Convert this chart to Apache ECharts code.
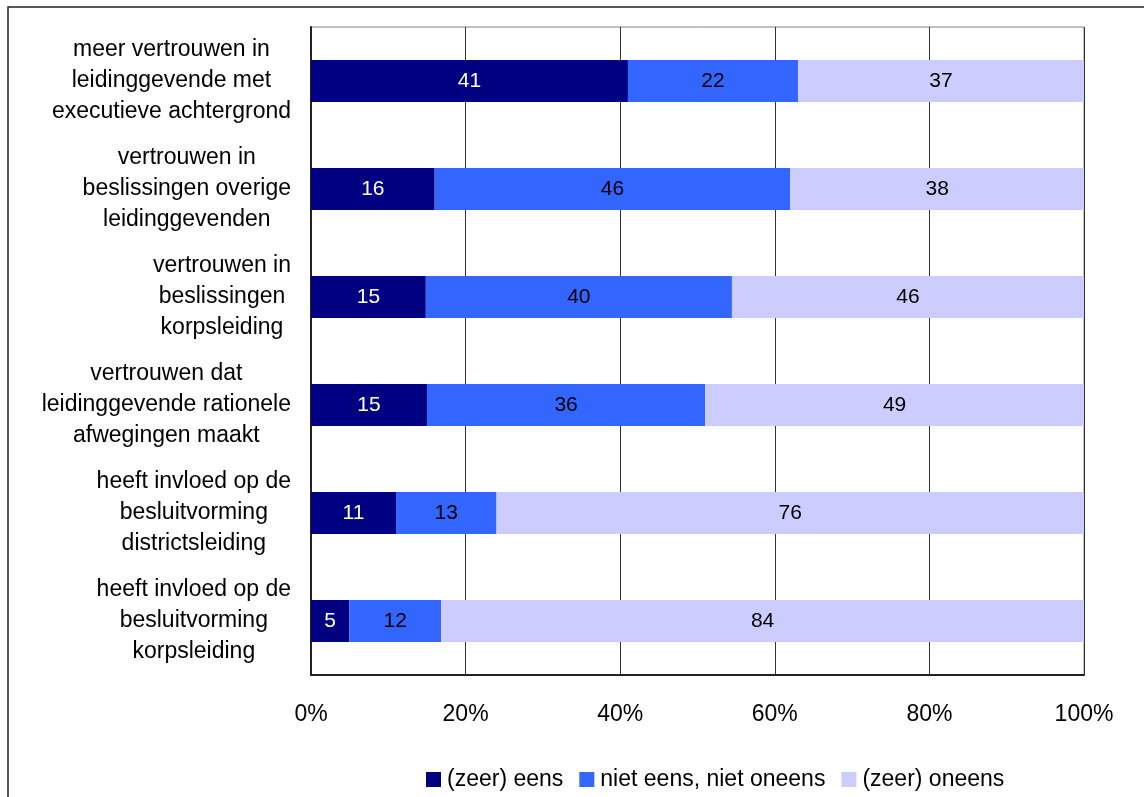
<!DOCTYPE html>
<html>
<head>
<meta charset="utf-8">
<script src="https://cdn.jsdelivr.net/npm/echarts@6/dist/echarts.min.js"></script>
<style>
html,body{margin:0;padding:0;background:#fff;}
#chart{width:1144px;height:797px;}
</style>
</head>
<body>
<div id="chart"></div>
<script>
const categories = [
  "meer vertrouwen in\nleidinggevende met\nexecutieve achtergrond",
  "vertrouwen in\nbeslissingen overige\nleidinggevenden",
  "vertrouwen in\nbeslissingen\nkorpsleiding",
  "vertrouwen dat\nleidinggevende rationele\nafwegingen maakt",
  "heeft invloed op de\nbesluitvorming\ndistrictsleiding",
  "heeft invloed op de\nbesluitvorming\nkorpsleiding"
];
const seriesNames = ["(zeer) eens", "niet eens, niet oneens", "(zeer) oneens"];
const eens = [41, 16, 15, 15, 11, 5];
const neutraal = [22, 46, 40, 36, 13, 12];
const oneens = [37, 38, 46, 49, 76, 84];
const tickLabels = ["0%", "20%", "40%", "60%", "80%", "100%"];

const colors = ["#000080", "#3366FF", "#CCCCFF"];
const labelColors = ["#ffffff", "#000000", "#000000"];
const raw = [eens, neutraal, oneens];
const totals = categories.map((_, i) => eens[i] + neutraal[i] + oneens[i]);
const FONT = "'Liberation Sans', Arial, sans-serif";

const chart = echarts.init(document.getElementById('chart'));
const series = raw.map((arr, s) => ({
  name: seriesNames[s],
  type: 'bar',
  stack: 'total',
  barWidth: 42,
  itemStyle: { color: colors[s] },
  label: {
    show: true,
    position: 'inside',
    color: labelColors[s],
    fontSize: 21,
    fontFamily: FONT,
    formatter: p => String(arr[p.dataIndex])
  },
  data: arr.map((v, i) => v / totals[i] * 100)
}));

chart.setOption({
  animation: false,
  backgroundColor: '#ffffff',
  graphic: [{
    type: 'rect',
    shape: { x: 8, y: 7, width: 1145, height: 800 },
    style: { fill: 'none', stroke: '#222', lineWidth: 1.5 },
    silent: true,
    z: -1
  }],
  grid: {
    left: 311, right: 60, top: 27, bottom: 122,
    show: true, borderColor: '#808080', borderWidth: 1, backgroundColor: 'transparent'
  },
  legend: {
    left: 421, top: 763,
    itemWidth: 15, itemHeight: 15, itemGap: 16,
    icon: 'rect',
    textStyle: { fontSize: 23, fontFamily: FONT, color: '#000', padding: [0, 0, 0, 1] },
    data: seriesNames
  },
  xAxis: {
    type: 'value',
    min: 0, max: 100, interval: 20,
    axisLine: { show: true, lineStyle: { color: '#222', width: 2 } },
    axisTick: { show: false },
    splitLine: { show: true, lineStyle: { color: '#333', width: 1 } },
    axisLabel: {
      margin: 28,
      fontSize: 23, fontFamily: FONT, color: '#000',
      formatter: v => tickLabels[Math.round(v / 20)]
    }
  },
  yAxis: {
    type: 'category',
    inverse: true,
    data: categories,
    axisLine: { show: true, lineStyle: { color: '#222', width: 2 } },
    axisTick: { show: false },
    axisLabel: {
      margin: 20,
      align: 'right',
      formatter: v => v.split('\n').map(l => '{c|' + l + '}').join('\n'),
      rich: {
        c: { align: 'center', fontSize: 23, lineHeight: 31, fontFamily: FONT, color: '#000' }
      }
    }
  },
  series: series
});
</script>
</body>
</html>
